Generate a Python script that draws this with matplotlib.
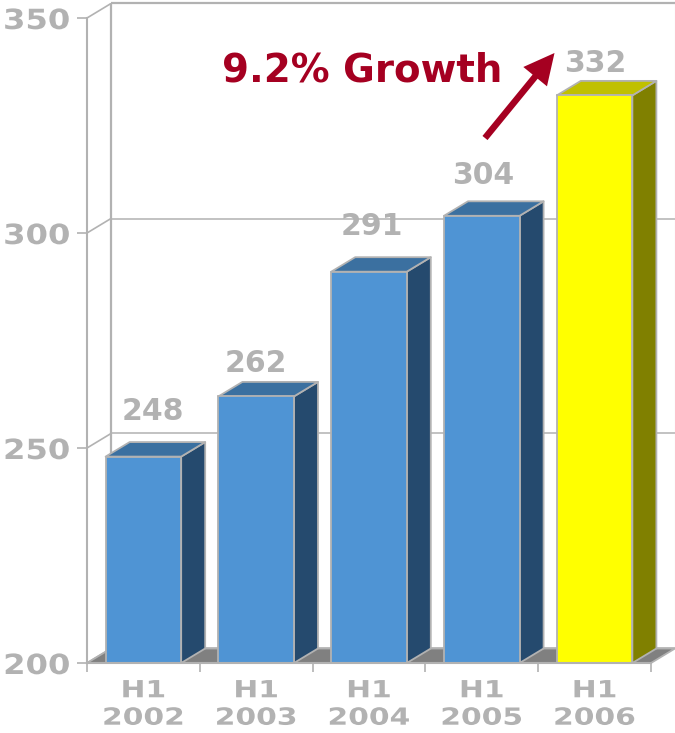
import matplotlib
matplotlib.use('Agg')
import matplotlib.pyplot as plt
from matplotlib.patches import Polygon
from matplotlib.patheffects import AbstractPathEffect
from matplotlib.transforms import Affine2D

categories = ['H1\n2002', 'H1\n2003', 'H1\n2004', 'H1\n2005', 'H1\n2006']
values = [248, 262, 291, 304, 332]
y_ticks = [200, 250, 300, 350]
growth_label = '9.2% Growth'

GREY = '#b2b2b2'
RED = '#a50021'
FRONT = ['#4f94d4', '#4f94d4', '#4f94d4', '#4f94d4', '#ffff00']
TOP = ['#3b70a0', '#3b70a0', '#3b70a0', '#3b70a0', '#c0c000']
SIDE = ['#254a6e', '#254a6e', '#254a6e', '#254a6e', '#808000']

W, H = 675, 733
DEPTH_X = 24 / 564 * 5
DEPTH_Y = 14.5 / 4.3
BAR_W = 0.67


class StretchX(AbstractPathEffect):
    # widen text horizontally, the chart font is an extended one
    def __init__(self, sx, anchor='center'):
        super().__init__()
        self.sx = sx
        self.anchor = anchor

    def draw_path(self, renderer, gc, tpath, affine, rgbFace=None):
        ext = tpath.get_extents(affine)
        x0 = ext.x1 if self.anchor == 'right' else (ext.x0 + ext.x1) / 2
        tr = affine + Affine2D().translate(-x0, 0).scale(self.sx, 1).translate(x0, 0)
        renderer.draw_path(gc, tpath, tr, rgbFace)


def poly(ax, pts, color, z, edge=GREY):
    ax.add_patch(Polygon(pts, closed=True, facecolor=color, edgecolor=edge,
                         linewidth=1.3, zorder=z, clip_on=False, joinstyle='round'))


fig = plt.figure(figsize=(W / 100, H / 100), dpi=100)
ax = fig.add_axes([87 / W, (H - 663) / H, 564 / W, 645 / H])
ax.set_xlim(0, 5)
ax.set_ylim(200, 350)
ax.patch.set_alpha(0)

for s in ['top', 'right']:
    ax.spines[s].set_visible(False)
for s in ['left', 'bottom']:
    ax.spines[s].set_color(GREY)
    ax.spines[s].set_linewidth(1.5)
    ax.spines[s].set_zorder(6)

# back wall, grid and left wall diagonals
line = dict(color=GREY, clip_on=False, zorder=1, solid_capstyle='butt')
for t in y_ticks:
    ax.plot([0, DEPTH_X], [t, t + DEPTH_Y], lw=1.2, **line)
    ax.plot([DEPTH_X, 5 + DEPTH_X], [t + DEPTH_Y, t + DEPTH_Y],
            lw=1.6 if t == 350 else 1.1, **line)
ax.plot([DEPTH_X, DEPTH_X], [200 + DEPTH_Y, 350 + DEPTH_Y], lw=1.6, **line)
ax.plot([5 + DEPTH_X, 5 + DEPTH_X], [200 + DEPTH_Y, 350 + DEPTH_Y],
        lw=0.8, color='#dddddd', clip_on=False, zorder=1)

# floor
poly(ax, [(0, 200), (5, 200), (5 + DEPTH_X, 200 + DEPTH_Y), (DEPTH_X, 200 + DEPTH_Y)],
     '#808080', 2)

# bars: side and top first, then the front face
for i, v in enumerate(values):
    x0 = i + 0.5 - BAR_W / 2
    x1 = i + 0.5 + BAR_W / 2
    poly(ax, [(x1, 200), (x1 + DEPTH_X, 200 + DEPTH_Y),
              (x1 + DEPTH_X, v + DEPTH_Y), (x1, v)], SIDE[i], 3)
    poly(ax, [(x0, v), (x1, v), (x1 + DEPTH_X, v + DEPTH_Y),
              (x0 + DEPTH_X, v + DEPTH_Y)], TOP[i], 3)
ax.bar([i + 0.5 for i in range(5)], [v - 200 for v in values], BAR_W, bottom=200,
       color=FRONT, edgecolor=GREY, linewidth=1.3, zorder=4)

# axis ticks and labels
ax.set_yticks(y_ticks)
ax.set_xticks(range(6))
ax.set_xticklabels([])
ax.set_xticks([i + 0.5 for i in range(5)], minor=True)
ax.set_xticklabels(categories, minor=True)
ax.tick_params(axis='y', length=7.5, width=1.2, color=GREY, pad=4.5)
ax.tick_params(axis='x', which='major', length=6.5, width=1.2, color=GREY)
ax.tick_params(axis='x', which='minor', length=0, pad=11)
for lab in ax.get_yticklabels():
    lab.set(fontsize=20, fontweight='bold', color=GREY, fontfamily='DejaVu Sans')
    lab.set_path_effects([StretchX(1.16, 'right')])
for lab in ax.get_xticklabels(minor=True):
    lab.set(fontsize=17, fontweight='bold', color=GREY, fontfamily='DejaVu Sans',
            linespacing=1.18)
    lab.set_path_effects([StretchX(1.26)])

# value labels, offsets in pixels from the bar top
label_dx = [9, 0, 3, 1, 0.5]
label_dy = [45, 33, 45, 40, 32]
for i, v in enumerate(values):
    ax.annotate(str(v), (i + 0.5, v), xytext=(label_dx[i] * 0.72, label_dy[i] * 0.72),
                textcoords='offset points', ha='center', va='center', fontsize=21.5,
                fontweight='bold', color=GREY, annotation_clip=False, zorder=7)

fig.text(222 / W, 1 - 71 / H, growth_label, ha='left', va='center', fontsize=27.9,
         fontweight='bold', color=RED)
ax.annotate('', xy=(554.5, H - 53), xytext=(485, H - 138), xycoords='figure pixels',
            textcoords='figure pixels', annotation_clip=False, zorder=8,
            arrowprops=dict(width=4.7, headwidth=22, headlength=22, color=RED, shrink=0,
                            linewidth=0))

fig.savefig('out.png', dpi=100)
